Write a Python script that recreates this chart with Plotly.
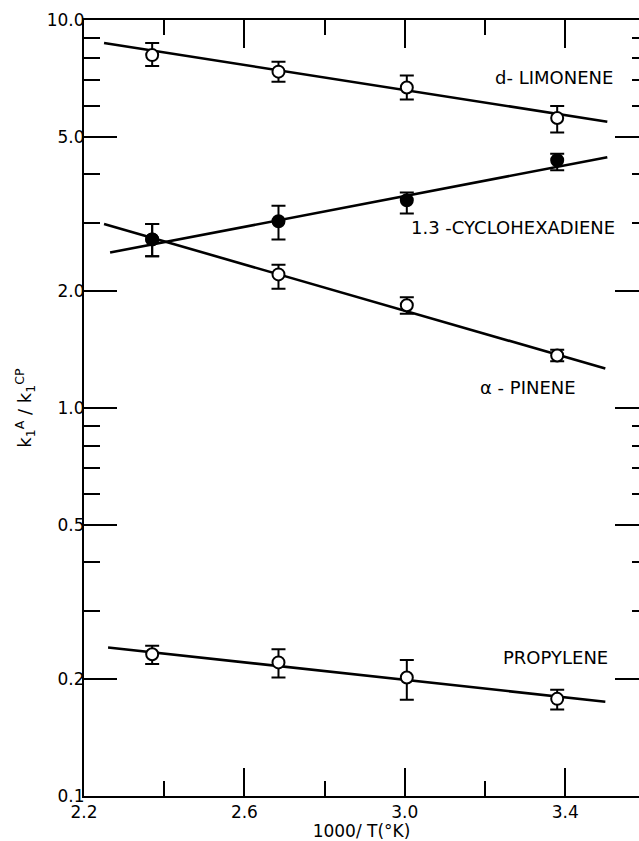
import plotly.graph_objects as go

# ---- data ----
inv_temp = [2.37, 2.685, 3.005, 3.38]

limonene = [8.12, 7.36, 6.70, 5.59]
limonene_up = [0.60, 0.45, 0.49, 0.41]
limonene_dn = [0.51, 0.43, 0.46, 0.46]

cyclohexadiene = [2.72, 3.03, 3.43, 4.35]
cyclohexadiene_up = [0.26, 0.29, 0.16, 0.17]
cyclohexadiene_dn = [0.26, 0.31, 0.26, 0.25]

pinene = [2.72, 2.21, 1.84, 1.366]
pinene_up = [0.26, 0.13, 0.09, 0.047]
pinene_dn = [0.26, 0.18, 0.09, 0.046]

propylene = [0.232, 0.221, 0.202, 0.178]
propylene_up = [0.012, 0.018, 0.022, 0.010]
propylene_dn = [0.013, 0.019, 0.025, 0.011]

# fitted lines (end points)
limonene_fit_x = [2.25, 3.505]
limonene_fit_y = [8.72, 5.47]
cyclohexadiene_fit_x = [2.265, 3.505]
cyclohexadiene_fit_y = [2.515, 4.43]
pinene_fit_x = [2.25, 3.50]
pinene_fit_y = [2.98, 1.264]
propylene_fit_x = [2.26, 3.50]
propylene_fit_y = [0.2414, 0.175]

y_major = [0.1, 0.2, 0.5, 1, 2, 5, 10]
y_major_text = ["0.1", "0.2", "0.5", "1.0", "2.0", "5.0", "10.0"]
y_minor = [0.3, 0.4, 0.6, 0.7, 0.8, 0.9, 3, 4, 6, 7, 8, 9]
x_major = [2.2, 2.6, 3.0, 3.4]
x_major_text = ["2.2", "2.6", "3.0", "3.4"]
x_minor = [2.4, 2.8, 3.2]

labels = ["d- LIMONENE", "1.3 -CYCLOHEXADIENE", "\u03b1 - PINENE", "PROPYLENE"]

FONT = "DejaVu Sans"
fig = go.Figure()

def fit(xs, ys):
    fig.add_trace(go.Scatter(x=xs, y=ys, mode="lines",
                             line=dict(color="black", width=2.6),
                             showlegend=False, hoverinfo="skip"))

def pts(ys, up, dn, filled):
    fig.add_trace(go.Scatter(
        x=inv_temp, y=ys, mode="markers",
        marker=dict(symbol="circle", size=12,
                    color="black" if filled else "white",
                    line=dict(color="black", width=2)),
        error_y=dict(type="data", symmetric=False, array=up, arrayminus=dn,
                     color="black", thickness=2, width=7),
        showlegend=False))

fit(limonene_fit_x, limonene_fit_y)
fit(cyclohexadiene_fit_x, cyclohexadiene_fit_y)
fit(pinene_fit_x, pinene_fit_y)
fit(propylene_fit_x, propylene_fit_y)
pts(limonene, limonene_up, limonene_dn, False)
pts(pinene, pinene_up, pinene_dn, False)
pts(propylene, propylene_up, propylene_dn, False)
pts(cyclohexadiene, cyclohexadiene_up, cyclohexadiene_dn, True)

# invisible trace for the right-hand tick axis
fig.add_trace(go.Scatter(x=inv_temp, y=limonene, yaxis="y2", mode="markers",
                         marker=dict(opacity=0), showlegend=False, hoverinfo="skip"))

annot_pos = [(0.957, 0.9265), (0.960, 0.732), (0.890, 0.526), (0.948, 0.178)]
for txt, (ax, ay) in zip(labels, annot_pos):
    fig.add_annotation(text=txt, x=ax, y=ay, xref="paper", yref="paper",
                       xanchor="right", yanchor="middle", showarrow=False,
                       font=dict(family=FONT, size=18, color="black"))

fig.update_layout(
    width=639, height=841,
    margin=dict(l=84, r=0, t=20, b=45),
    paper_bgcolor="white", plot_bgcolor="white",
    font=dict(family=FONT, color="black"),
    xaxis=dict(range=[2.2, 3.584], showgrid=False, zeroline=False,
               showline=True, linecolor="black", linewidth=2, mirror="ticks",
               tickmode="array", tickvals=x_major, ticktext=x_major_text,
               ticks="inside", ticklen=28, tickwidth=2, tickcolor="black",
               tickfont=dict(family=FONT, size=17),
               minor=dict(tickmode="array", tickvals=x_minor, ticks="inside",
                          ticklen=15, tickwidth=2, tickcolor="black", showgrid=False),
               title=dict(text="1000/ T(\u00b0K)", font=dict(family=FONT, size=17), standoff=2)),
    yaxis=dict(type="log", range=[-1, 1], showgrid=False, zeroline=False,
               showline=True, linecolor="black", linewidth=2,
               tickmode="array", tickvals=y_major, ticktext=y_major_text,
               ticks="inside", ticklen=33, tickwidth=2, tickcolor="black",
               tickfont=dict(family=FONT, size=17), ticklabelstandoff=-6,
               minor=dict(tickmode="array", tickvals=y_minor, ticks="inside",
                          ticklen=16, tickwidth=2, tickcolor="black", showgrid=False),
               title=dict(text="k<sub>1</sub><sup>A</sup> / k<sub>1</sub><sup>CP</sup>",
                          font=dict(family=FONT, size=18), standoff=10)),
    yaxis2=dict(type="log", range=[-1, 1], overlaying="y", side="right",
                showgrid=False, zeroline=False, showline=False, showticklabels=False,
                tickmode="array", tickvals=y_major[1:-1],
                ticks="inside", ticklen=24, tickwidth=2, tickcolor="black",
                minor=dict(tickmode="array", tickvals=y_minor, ticks="inside",
                           ticklen=7, tickwidth=2, tickcolor="black", showgrid=False)),
)

fig.write_html(
    "out.html",
    config={"displayModeBar": False},
    post_script="document.body.style.margin='0';document.body.style.overflow='hidden';",
)
